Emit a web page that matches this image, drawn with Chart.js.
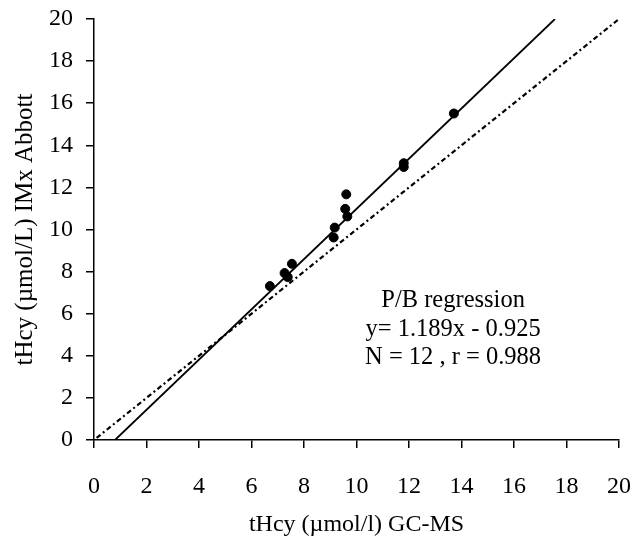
<!DOCTYPE html>
<html>
<head>
<meta charset="utf-8">
<script src="https://cdn.jsdelivr.net/npm/chart.js@4/dist/chart.umd.min.js"></script>
<style>
html,body{margin:0;padding:0;background:#fff;}
#wrap{width:631px;height:542px;}
</style>
</head>
<body>
<div id="wrap"><canvas id="c" width="631" height="542"></canvas></div>
<script>
const gcmsX = [13.71, 11.8, 11.8, 9.61, 9.57, 9.65, 9.17, 9.13, 7.54, 7.26, 7.38, 6.70];
const imxY  = [15.51, 13.15, 12.97, 11.67, 10.98, 10.62, 10.09, 9.62, 8.37, 7.93, 7.74, 7.31];
const regLineX = [0.8, 17.56];
const regLineY = [0, 20];
const idLineX = [0.1, 20];
const idLineY = [0.1, 20];
const tickValues = [0,2,4,6,8,10,12,14,16,18,20];
const annotationLines = ['P/B regression', 'y= 1.189x - 0.925', 'N = 12 , r = 0.988'];

const pts = gcmsX.map((x,i)=>({x:x, y:imxY[i]}));
const reg = regLineX.map((x,i)=>({x:x, y:regLineY[i]}));
const idl = idLineX.map((x,i)=>({x:x, y:idLineY[i]}));

const FONT = "'Liberation Serif', 'Times New Roman', serif";

const textPlugin = {
  id:'annot',
  afterDatasetsDraw(chart){
    const ctx = chart.ctx;
    const xs = chart.scales.x, ys = chart.scales.y;
    ctx.save();
    ctx.fillStyle = '#000';
    ctx.font = '24.5px ' + FONT;
    ctx.textAlign = 'center';
    ctx.textBaseline = 'middle';
    const cx = xs.getPixelForValue(13.68);
    const yv = [6.62, 5.27, 3.94];
    annotationLines.forEach((t,i)=>{
      ctx.fillText(t, cx, ys.getPixelForValue(yv[i]));
    });
    ctx.restore();
  }
};

new Chart(document.getElementById('c'), {
  type:'scatter',
  data:{
    datasets:[
      {data:idl, showLine:true, borderColor:'#000', borderWidth:2.2, borderDash:[5,3,2,3], pointRadius:0, order:3},
      {data:reg, showLine:true, borderColor:'#000', borderWidth:1.8, pointRadius:0, order:2},
      {data:pts, showLine:false, backgroundColor:'#000', borderColor:'#000', pointRadius:4.5, pointStyle:'circle', order:1}
    ]
  },
  options:{
    responsive:false,
    animation:false,
    devicePixelRatio:1,
    layout:{padding:{top:19, right:12, left:0, bottom:0}},
    plugins:{legend:{display:false}, tooltip:{enabled:false}},
    scales:{
      x:{
        type:'linear', min:0, max:20,
        afterBuildTicks(s){ s.ticks = tickValues.map(v=>({value:v})); },
        afterFit(s){ s.height = 102; s.paddingLeft = 0; s.paddingRight = 0; },
        grid:{drawOnChartArea:false, drawTicks:true, tickLength:8, color:'#000', lineWidth:1.5},
        border:{display:true, color:'#000', width:1.5},
        ticks:{color:'#000', font:{family:FONT, size:24}, padding:24, maxRotation:0, autoSkip:false},
        title:{display:true, text:'tHcy (µmol/l) GC-MS', color:'#000', font:{family:FONT, size:24}, padding:{top:4, bottom:3}}
      },
      y:{
        type:'linear', min:0, max:20,
        afterBuildTicks(s){ s.ticks = tickValues.map(v=>({value:v})); },
        afterFit(s){ s.width = 94; s.paddingTop = 0; s.paddingBottom = 0; },
        grid:{drawOnChartArea:false, drawTicks:true, tickLength:8, color:'#000', lineWidth:1.5},
        border:{display:true, color:'#000', width:1.5},
        ticks:{color:'#000', font:{family:FONT, size:24}, padding:13, autoSkip:false},
        title:{display:true, text:'tHcy (µmol/L) IMx Abbott', color:'#000', font:{family:FONT, size:25}, padding:{top:10, bottom:4}}
      }
    }
  },
  plugins:[textPlugin]
});
</script>
</body>
</html>
